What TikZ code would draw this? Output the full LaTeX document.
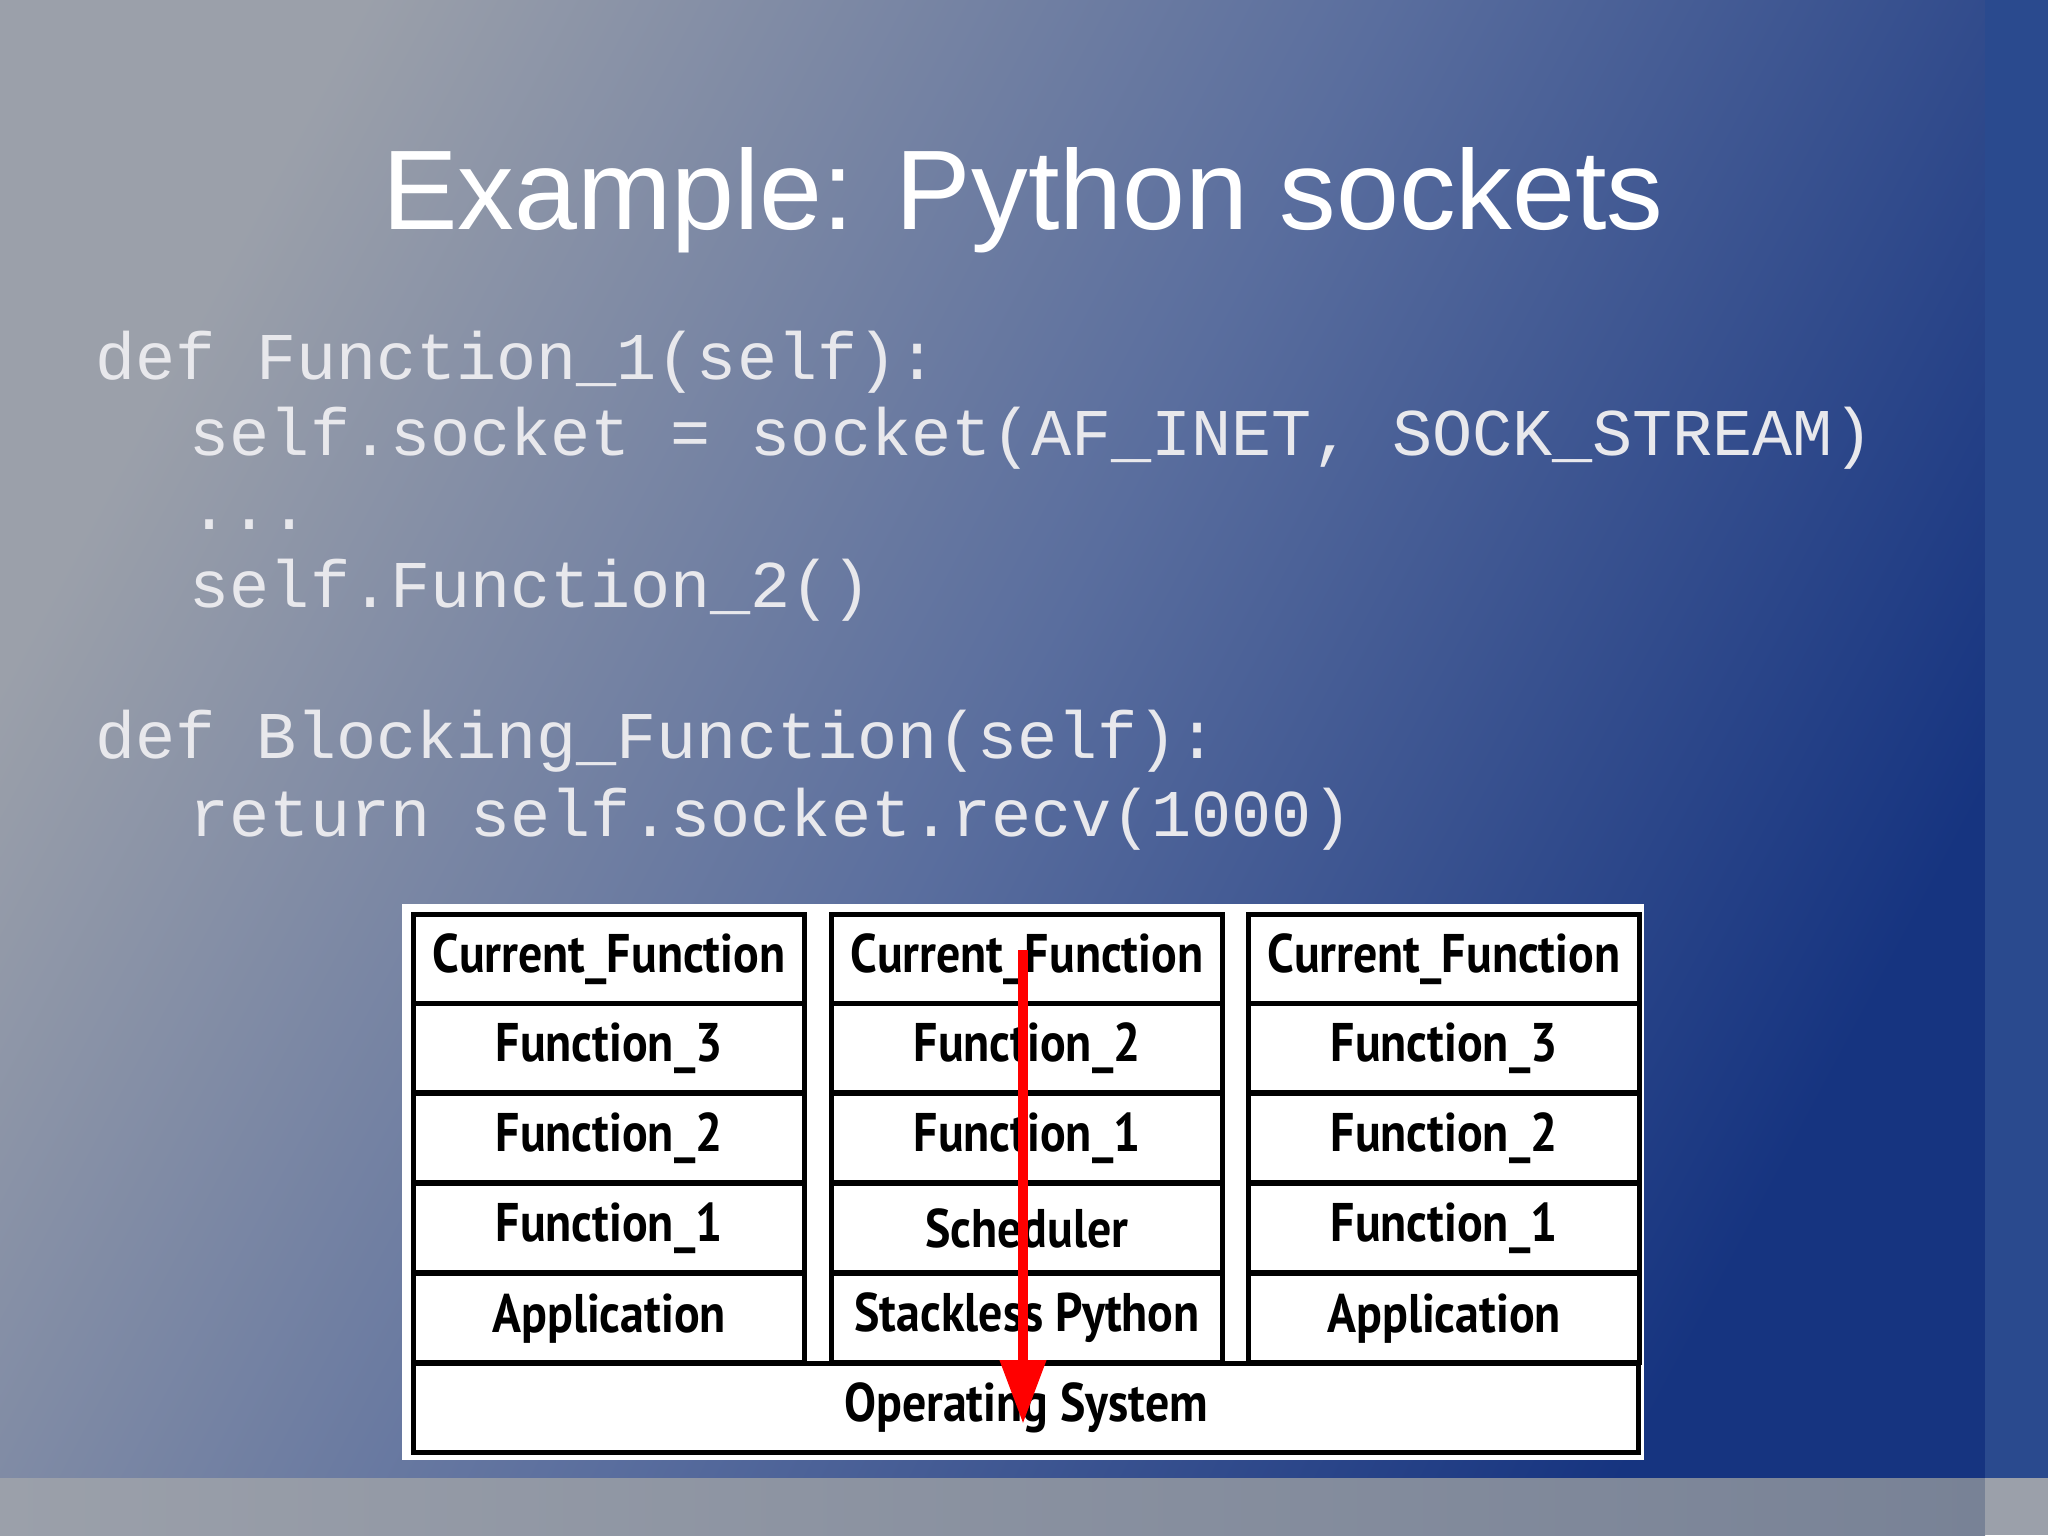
\documentclass[tikz,border=0pt]{standalone}
\usepackage{fontspec}
\setmainfont{Liberation Sans}
\newfontfamily\codefont{Liberation Mono}
\newfontfamily\cellfont{PT Sans}
\usetikzlibrary{arrows.meta}
\definecolor{bgblue}{RGB}{22,52,128}
\definecolor{bggrey}{RGB}{155,160,170}
\definecolor{bgmid}{RGB}{90,110,158}
\definecolor{stripblue}{RGB}{42,74,142}
\definecolor{stripend}{RGB}{120,130,150}
\definecolor{codecol}{RGB}{232,232,236}
\newcommand{\cnd}[1]{\scalebox{0.88}[1]{#1}}
\begin{document}
\begin{tikzpicture}[x=0.25pt,y=-0.25pt,
  code/.style={anchor=base west,inner sep=0,text=codecol,font=\codefont\fontsize{16.7}{20}\selectfont},
  cell/.style={draw=black,line width=1.3pt,fill=white,minimum width={#1*0.25pt},minimum height={89*0.25pt},inner sep=0,anchor=north west,font=\cellfont\bfseries\fontsize{13.6}{16}\selectfont},
  cell/.default=391]
\useasboundingbox (0,0) rectangle (2048,1535);
\shade[top color=bggrey,bottom color=bgblue,middle color=bgmid,shading angle=62] (0,0) rectangle (1985,1478);
\fill[stripblue] (1985,0) rectangle (2048,1478);
\shade[left color=bggrey,right color=stripend] (0,1478) rectangle (1985,1535);
\fill[bggrey] (1985,1478) rectangle (2048,1535);
\node[anchor=base,text=white,font=\fontsize{28.3}{32}\selectfont] (title) at (1023,229) {Example: Python sockets};
\node[code] (c1) at (95,379) {def Function\_1(self):};
\node[code] (c2) at (189,455) {self.socket = socket(AF\_INET, SOCK\_STREAM)};
\node[code] (c3) at (189,529) {...};
\node[code] (c4) at (189,607) {self.Function\_2()};
\node[code] (c5) at (95,758) {def Blocking\_Function(self):};
\node[code] (c6) at (189,836) {return self.socket.recv(1000)};
\fill[white] (402,904) rectangle (1644,1460);
\foreach \col/\x/\a/\b/\c/\d/\e in {
  1/411/Current\_Function/Function\_3/Function\_2/Function\_1/Application,
  2/829/Current\_Function/Function\_2/Function\_1/Scheduler/Stackless Python,
  3/1246/Current\_Function/Function\_3/Function\_2/Function\_1/Application}{
  \node[cell] (k\col r1) at (\x,912) {\cnd{\a}};
  \node[cell] (k\col r2) at (\x,1001) {\cnd{\b}};
  \node[cell] (k\col r3) at (\x,1091) {\cnd{\c}};
  \node[cell] (k\col r4) at (\x,1181) {\cnd{\d}};
  \node[cell] (k\col r5) at (\x,1271) {\cnd{\e}};
}
\node[cell=1225] (os) at (411,1361) {\cnd{Operating System}};
\coordinate (astart) at (1023,950);
\coordinate (aend) at (1023,1424);
\draw[red,line width=2.6pt,-{Triangle[length=16pt,width=11pt]}] (astart) -- (aend);
\end{tikzpicture}
\end{document}
